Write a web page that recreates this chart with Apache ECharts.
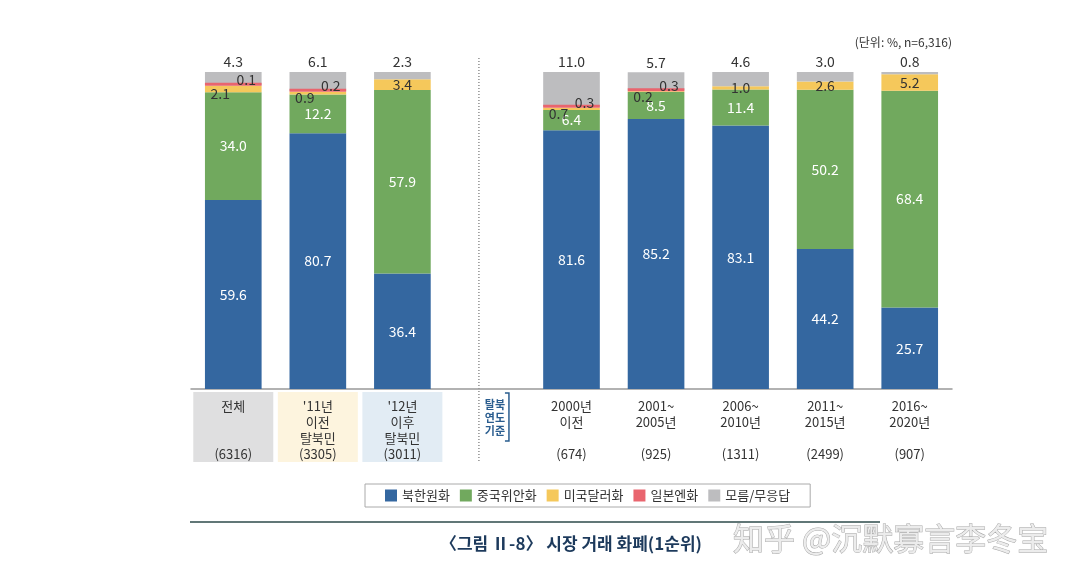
<!DOCTYPE html>
<html><head><meta charset="utf-8">
<script src="https://cdn.jsdelivr.net/npm/echarts@6/dist/echarts.min.js"></script>
<style>html,body{margin:0;padding:0;background:#fff}#c{width:1080px;height:579px}</style>
</head><body><div id="c"></div>
<script>
const categories = ['전체\n\n', "'11년\n이전\n탈북민", "'12년\n이후\n탈북민", '탈북\n연도\n기준', '2000년\n이전\n', '2001~\n2005년\n', '2006~\n2010년\n', '2011~\n2015년\n', '2016~\n2020년\n'];
const sampleSizes = ['(6316)', '(3305)', '(3011)', null, '(674)', '(925)', '(1311)', '(2499)', '(907)'];
const seriesNames = ['북한원화', '중국위안화', '미국달러화', '일본엔화', '모름/무응답'];
const krw = [59.6, 80.7, 36.4, null, 81.6, 85.2, 83.1, 44.2, 25.7];
const cny = [34.0, 12.2, 57.9, null, 6.4, 8.5, 11.4, 50.2, 68.4];
const usd = [2.1, 0.9, 3.4, null, 0.7, 0.2, 1.0, 2.6, 5.2];
const jpy = [0.1, 0.2, null, null, 0.3, 0.3, null, null, null];
const unknown = [4.3, 6.1, 2.3, null, 11.0, 5.7, 4.6, 3.0, 0.8];

const FONT = '"Noto Sans CJK KR", "Noto Sans", sans-serif';
const colors = ['#3467a0', '#71a95e', '#f5c85b', '#e9656e', '#bdbdbf'];
const boxColors = ['#dfdfe0', '#fdf4de', '#e2ecf4'];

const chart = echarts.init(document.getElementById('c'));

const xData = categories.map((c, i) => {
  if (sampleSizes[i] === null) {
    return { value: c, textStyle: { color: '#2a5d8f', fontSize: 11, fontWeight: 'bold', lineHeight: 13, padding: [6, 0, 0, 16] } };
  }
  const item = { value: c + '\n' + sampleSizes[i] };
  if (i < boxColors.length) {
    item.textStyle = { backgroundColor: boxColors[i], width: 80, height: 64, padding: [6, 0, 0, 0] };
  }
  return item;
});

const fmt = p => (p.value === null || p.value === undefined || p.value === '-') ? '' : Number(p.value).toFixed(1);

function mk(name, arr, idx, extra) {
  return Object.assign({
    name: name, type: 'bar', stack: 'all', barWidth: '67%',
    itemStyle: { color: colors[idx] },
    data: arr.map(v => v === null ? '-' : v),
  }, extra);
}

const usdData = usd.map((v, i) => {
  if (v === null) return '-';
  if (jpy[i] !== null) return { value: v, label: { offset: [-13, 5] } };
  return v;
});
const jpyData = jpy.map(v => v === null ? '-' : { value: v, label: { offset: [13, -4] } });

const option = {
  animation: false,
  textStyle: { fontFamily: FONT },
  grid: { left: 191, right: 128, top: 72, bottom: 190 },
  legend: {
    data: seriesNames,
    left: 365, top: 484,
    icon: 'rect', itemWidth: 12, itemHeight: 12, itemGap: 10,
    padding: [5, 20], borderColor: '#aaa', borderWidth: 1,
    textStyle: { fontSize: 13, color: '#333', fontFamily: FONT }
  },
  xAxis: {
    type: 'category', data: xData,
    axisLine: { lineStyle: { color: '#999', width: 1.5 } },
    axisTick: { show: false },
    axisLabel: { interval: 0, margin: 3, color: '#333', fontSize: 13, lineHeight: 16, fontFamily: FONT, padding: [6, 0, 0, 0] }
  },
  yAxis: { type: 'value', min: 0, max: 100, show: false },
  series: [
    mk(seriesNames[0], krw, 0, { label: { show: true, position: 'inside', color: '#fff', fontSize: 14, formatter: fmt } }),
    mk(seriesNames[1], cny, 1, { label: { show: true, position: 'inside', color: '#fff', fontSize: 14, formatter: fmt } }),
    Object.assign(mk(seriesNames[2], usd, 2, { label: { show: true, position: 'inside', color: '#333', fontSize: 14, formatter: fmt } }), { data: usdData }),
    Object.assign(mk(seriesNames[3], jpy, 3, { z: 3, barMinHeight: 3, label: { show: true, position: 'inside', color: '#333', fontSize: 14, formatter: fmt } }), { data: jpyData }),
    mk(seriesNames[4], unknown, 4, { label: { show: true, position: 'top', distance: 3, color: '#333', fontSize: 14, formatter: fmt } })
  ]
};
chart.setOption(option);

// decorations derived from the axis positions
const gapIdx = sampleSizes.indexOf(null);
const gapX = chart.convertToPixel({ xAxisIndex: 0 }, gapIdx);
const y0 = chart.convertToPixel({ yAxisIndex: 0 }, 0);
const y100 = chart.convertToPixel({ yAxisIndex: 0 }, 100);
const lastX = chart.convertToPixel({ xAxisIndex: 0 }, categories.length - 1);
const firstX = chart.convertToPixel({ xAxisIndex: 0 }, 0);
const step = (lastX - firstX) / (categories.length - 1);
const gridRight = lastX + step / 2;
const gridLeft = firstX - step / 2;

chart.setOption({
  graphic: [
    { type: 'line', shape: { x1: gapX - 8, y1: y100 - 14, x2: gapX - 8, y2: y0 + 73 }, style: { stroke: '#555', lineWidth: 1, lineDash: [1, 2] } },
    { type: 'polyline', shape: { points: [[gapX + 18, y0 + 4], [gapX + 22, y0 + 4], [gapX + 22, y0 + 52], [gapX + 18, y0 + 52]] }, style: { stroke: '#2a5d8f', lineWidth: 1.5, fill: null } },
    { type: 'text', x: gridRight, y: y100 - 30, style: { text: '(단위: %, n=6,316)', align: 'right', verticalAlign: 'middle', fill: '#333', fontSize: 12, fontFamily: FONT } },
    { type: 'line', shape: { x1: gridLeft - 1, y1: 522, x2: 880, y2: 522 }, style: { stroke: '#2d4a4a', lineWidth: 1.5 } },
    { type: 'text', x: 571, y: 544, style: { text: '〈그림 Ⅱ-8〉 시장 거래 화폐(1순위)', align: 'center', verticalAlign: 'middle', fill: '#1d3a5c', fontSize: 17, fontWeight: 'bold', fontFamily: FONT } },
    { type: 'text', x: 733, y: 538, z: 10, style: { text: '知乎 @沉默寡言李冬宝', align: 'left', verticalAlign: 'middle', fill: '#ececec', stroke: '#a8a8a8', lineWidth: 1, fontSize: 31, fontFamily: '"Noto Sans CJK SC", sans-serif' } }
  ]
});
</script></body></html>
